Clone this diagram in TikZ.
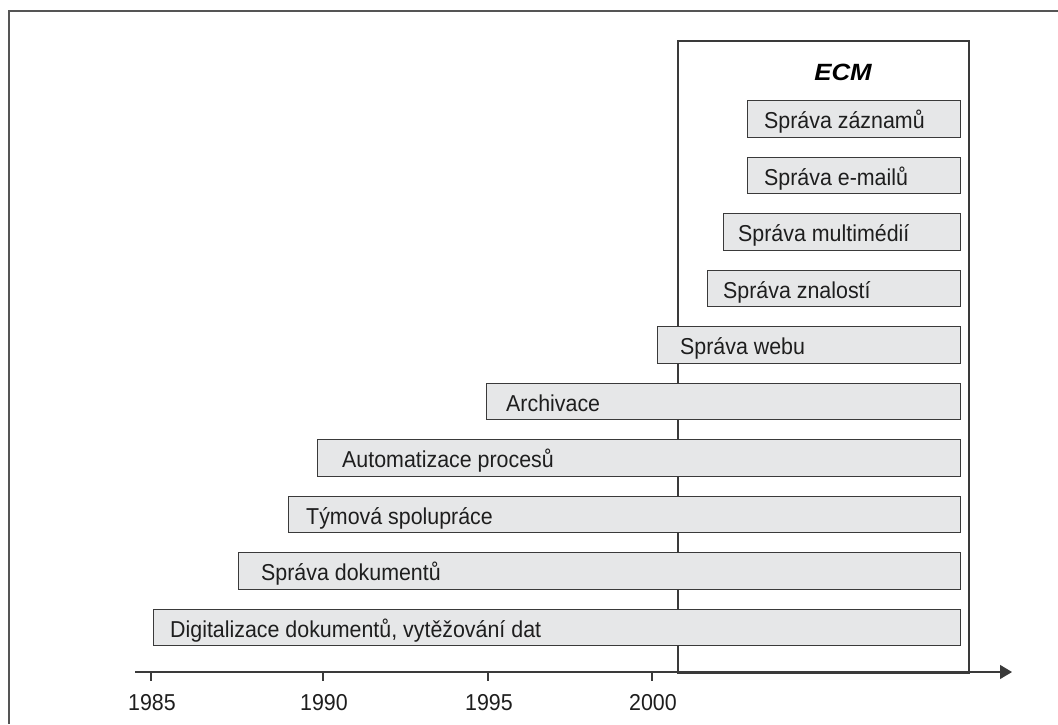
\documentclass[tikz,border=0pt]{standalone}
\usepackage{fontspec}
\setmainfont[FakeStretch=0.93]{Liberation Sans}
\newfontfamily\ecmfont[FakeStretch=1.1]{Liberation Sans}
\usetikzlibrary{arrows.meta,calc}
\definecolor{barfill}{HTML}{E6E7E8}
\definecolor{barline}{HTML}{3A3A3A}
\definecolor{txt}{HTML}{1E1E1E}
\definecolor{framecol}{HTML}{555555}
\begin{document}
\begin{tikzpicture}[x=1pt,y=-1pt,
  framestyle/.style={draw=framecol, line width=2pt},
  ecmbox/.style={draw=barline, line width=1.6pt, anchor=north west, inner sep=0pt, minimum width=291pt, minimum height=632pt},
  barbox/.style={draw=barline, fill=barfill, line width=1.3pt, anchor=north west, minimum height=36.5pt, inner sep=0pt},
  bartext/.style={anchor=base west, inner sep=0pt, font=\fontsize{23}{28}\selectfont, text=txt},
  yeartext/.style={inner sep=0pt, font=\fontsize{23}{28}\selectfont, text=txt},
  ecmtext/.style={inner sep=0pt, font=\ecmfont\fontsize{23.5}{28}\selectfont\bfseries\itshape, text=black},
  axisline/.style={draw=barline, line width=1.4pt},
  tickline/.style={draw=barline, line width=1.2pt}]
\useasboundingbox (0,0) rectangle (1058,724);
% outer frame (cut off at right and bottom)
\draw[framestyle] (1058,11) -- (9,11) -- (9,724);
% ECM box
\node[ecmbox] (ecm) at (677,40) {};
\node[ecmtext] (ecmlabel) at (843,72) {ECM};
% bars
\foreach \nm/\lx/\ty/\ind/\txt in {
  zaz/747/100/17/{Správa záznamů},
  mail/747/156.5/17/{Správa e-mailů},
  multi/723/213/15/{Správa multimédií},
  znal/707/269.5/16/{Správa znalostí},
  web/657/326/23/{Správa webu},
  arch/486/382.5/20/{Archivace},
  auto/317/439/25/{Automatizace procesů},
  tym/288/495.5/18/{Týmová spolupráce},
  dok/238/552/23/{Správa dokumentů},
  dig/153/608.5/17/{Digitalizace dokumentů, vytěžování dat}} {
  \pgfmathsetmacro\w{960-\lx}
  \node[barbox, minimum width=\w pt] (\nm) at (\lx,\ty) {};
  \node[bartext] (\nm-t) at ($(\nm.north west)+(\ind,28.5)$) {\txt};
}
% axis
\coordinate (axL) at (135,672);
\coordinate (axR) at (1012,672);
\draw[axisline, -{Triangle[length=12pt,width=14pt]}] (axL) -- (axR);
% ticks and years
\foreach \yr/\tx in {1985/151, 1990/323, 1995/488, 2000/652} {
  \coordinate (t\yr) at (\tx,672);
  \draw[tickline] (t\yr) -- ++(0,9);
  \node[yeartext] (y\yr) at (\tx+1,703) {\yr};
}
\end{tikzpicture}
\end{document}
